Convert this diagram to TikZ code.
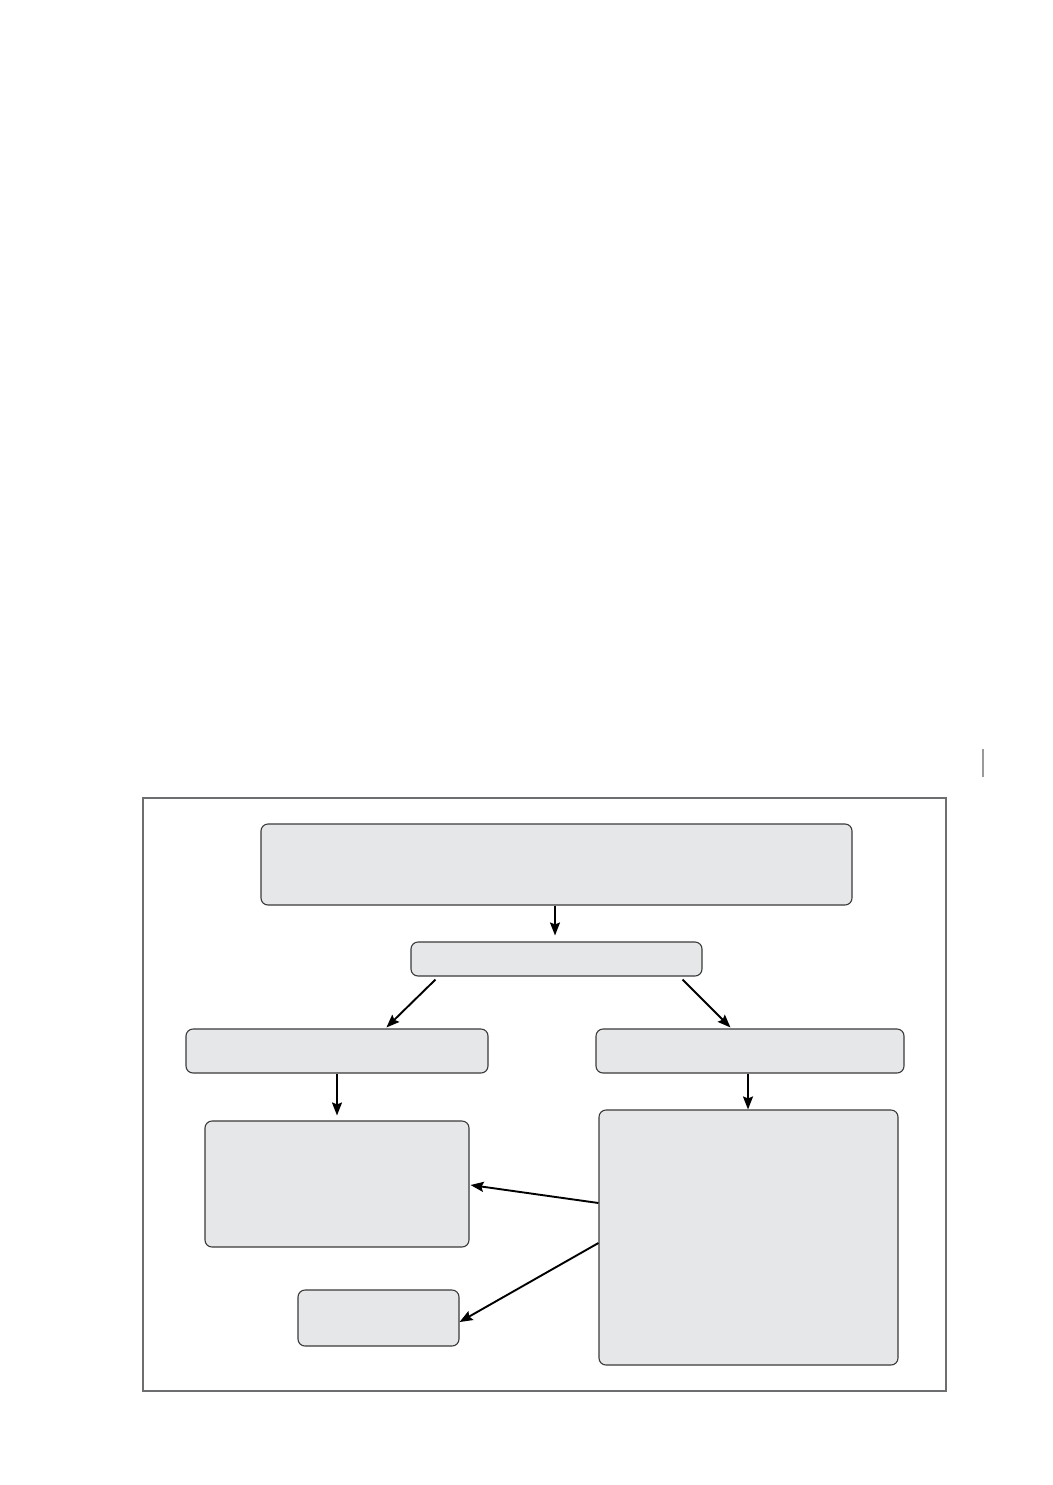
\documentclass[tikz,border=0pt]{standalone}
\usetikzlibrary{arrows.meta,calc}
\definecolor{boxfill}{HTML}{E6E7E8}
\definecolor{boxline}{HTML}{3A3A3A}
\definecolor{frameline}{HTML}{6D6E70}
\definecolor{markline}{HTML}{9A9A9A}
\tikzset{
  box/.style={draw=boxline, line width=1.1pt, fill=boxfill, rounded corners=7pt, inner sep=0pt},
  conn/.style={draw=black, line width=1.9pt, -{Stealth[length=13pt,width=10pt,inset=2pt]}},
}
\begin{document}
\begin{tikzpicture}[x=1pt,y=-1pt]
\useasboundingbox (0,0) rectangle (1052,1485);
% margin mark
\draw[markline, line width=1.4pt] (983,749) -- (983,777);
% outer frame
\node[draw=frameline, line width=1.1pt, minimum width=803pt, minimum height=593pt, inner sep=0pt] (frame) at (544.5,1094.5) {};
% boxes
\node[box, minimum width=591pt, minimum height=81pt] (A) at (556.5,864.5) {};
\node[box, minimum width=291pt, minimum height=34pt] (B) at (556.5,959) {};
\node[box, minimum width=302pt, minimum height=44pt] (C) at (337,1051) {};
\node[box, minimum width=308pt, minimum height=44pt] (D) at (750,1051) {};
\node[box, minimum width=264pt, minimum height=126pt] (E) at (337,1184) {};
\node[box, minimum width=299pt, minimum height=255pt] (F) at (748.5,1237.5) {};
\node[box, minimum width=161pt, minimum height=56pt] (G) at (378.5,1318) {};
% connectors
\draw[conn] ([xshift=-1.5pt]A.south) -- ([xshift=-1.5pt,yshift=6pt]B.north);
\draw[conn] ([xshift=25pt,yshift=-3pt]B.south west) -- ([xshift=201pt,yshift=1pt]C.north west);
\draw[conn] ([xshift=-20pt,yshift=-3pt]B.south east) -- ([xshift=135pt,yshift=1pt]D.north west);
\draw[conn] (C.south) -- ([yshift=5pt]E.north);
\draw[conn] ([xshift=-2pt]D.south) -- ([xshift=-0.5pt]F.north);
\draw[conn] ([yshift=34.5pt]F.west) -- ([xshift=1pt,yshift=-1pt]E.east);
\draw[conn] ([yshift=-5.5pt]F.west) -- ([yshift=-4pt]G.east);
\end{tikzpicture}
\end{document}
